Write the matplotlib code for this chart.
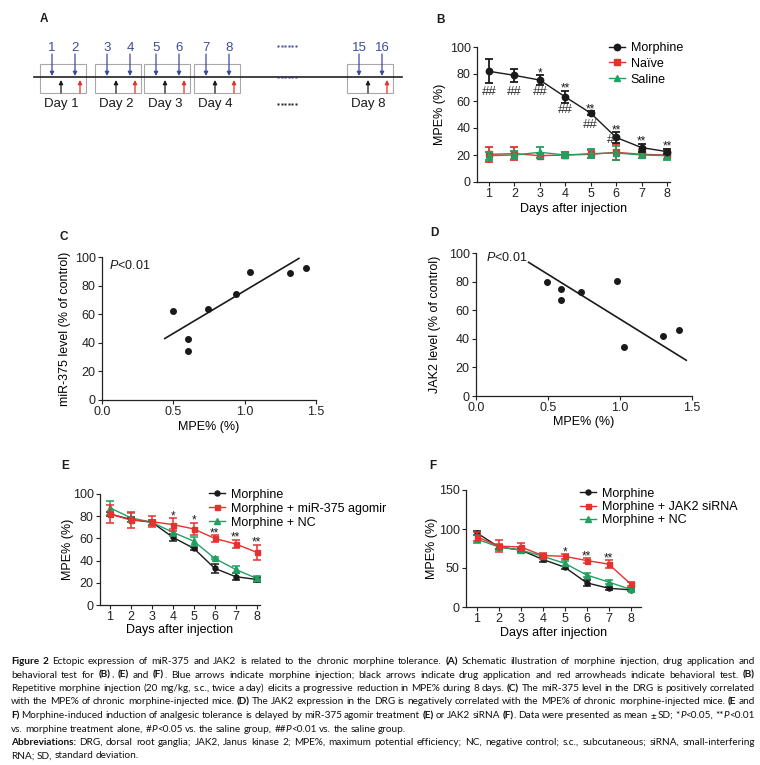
import numpy as np
import matplotlib
matplotlib.use('Agg')
import matplotlib.pyplot as plt
from matplotlib.font_manager import FontProperties
from matplotlib.patches import Rectangle

W, H = 760, 765
plt.rcParams['font.family'] = ['Liberation Sans', 'DejaVu Sans']
plt.rcParams['mathtext.fontset'] = 'custom'
plt.rcParams['mathtext.rm'] = 'Liberation Sans'
plt.rcParams['mathtext.it'] = 'Liberation Sans:italic'
plt.rcParams['mathtext.bf'] = 'Liberation Sans:bold'

# ---------------- data ----------------
a_injections = [1, 2, 3, 4, 5, 6, 7, 8, 15, 16]
a_day_labels = ['Day 1', 'Day 2', 'Day 3', 'Day 4', 'Day 8']

days = [1, 2, 3, 4, 5, 6, 7, 8]
b_morphine = [82, 79, 75.5, 63, 51, 33, 25.5, 22.5]
b_morphine_sd = [9, 5, 3.5, 4.5, 1.5, 4, 3, 2]
b_naive = [20.5, 21, 19.5, 20, 20.5, 22, 20.5, 20]
b_naive_sd = [5.5, 5, 2, 2.5, 3, 6, 3, 3]
b_saline = [19.5, 20, 22, 20, 21, 21.5, 20, 19.5]
b_saline_sd = [3, 3, 4, 1.5, 3.5, 5, 2, 3]
b_stars = ['', '', '*', '**', '**', '**', '**', '**']
b_hash = ['##', '##', '##', '##', '##', '#', '', '']
b_hash_x = [1, 2, 3, 4, 5, 5.78, 7, 8]
b_hash_y = [67, 67, 67, 53, 42, 31, 0, 0]

c_x = [0.50, 0.60, 0.60, 0.74, 0.94, 1.04, 1.32, 1.43]
c_y = [62.5, 43, 34.5, 63.5, 74, 89.5, 89, 92.5]
c_fit_x = [0.44, 1.38]
c_fit_y = [43, 99]

d_x = [0.49, 0.59, 0.59, 0.73, 0.98, 1.03, 1.30, 1.41]
d_y = [79.5, 74.5, 67, 72.5, 80.5, 34, 42, 46]
d_fit_x = [0.365, 1.46]
d_fit_y = [93.5, 25]

e_morphine = [82, 77, 74.5, 61, 51, 33, 25.5, 23]
e_morphine_sd = [2, 2, 2, 3, 1.5, 4, 3, 2]
e_agomir = [82, 76.5, 75, 72.5, 68.5, 60, 55, 47.5]
e_agomir_sd = [8, 7, 5, 5.5, 5.5, 3, 4, 7]
e_nc = [87.5, 78.5, 74.5, 65.5, 57.5, 42, 32, 24]
e_nc_sd = [6, 4, 2.5, 3, 4, 1, 3, 2]
e_stars = ['', '', '', '*', '*', '**', '**', '**']

f_morphine = [95, 77, 73, 61, 51, 31, 24, 22]
f_morphine_sd = [3, 3, 3, 3, 2, 4, 2, 2]
f_sirna = [90, 78, 77, 66, 65, 59.5, 55, 29.5]
f_sirna_sd = [6, 8, 5, 3, 3, 3, 5, 3]
f_nc = [87, 77, 73, 65, 56, 41, 32, 22.5]
f_nc_sd = [5, 4, 4, 3, 3, 2, 3, 2]
f_stars = ['', '', '', '', '*', '**', '**', '']

caption_lines = [
    ("«Figure 2» Ectopic expression of miR-375 and JAK2 is related to the chronic morphine tolerance. «(A)» Schematic illustration of morphine injection, drug application and", True),
    ("behavioral test for «(B)», «(E)» and «(F)». Blue arrows indicate morphine injection; black arrows indicate drug application and red arrowheads indicate behavioral test. «(B)»", True),
    ("Repetitive morphine injection (20 mg/kg, s.c., twice a day) elicits a progressive reduction in MPE% during 8 days. «(C)» The miR-375 level in the DRG is positively correlated", True),
    ("with the MPE% of chronic morphine-injected mice. «(D)» The JAK2 expression in the DRG is negatively correlated with the MPE% of chronic morphine-injected mice. «(E» and", True),
    ("«F)» Morphine-induced induction of analgesic tolerance is delayed by miR-375 agomir treatment «(E)» or JAK2 siRNA «(F)». Data were presented as mean ± SD; *‹P›<0.05, **‹P›<0.01", True),
    ("vs. morphine treatment alone, #‹P›<0.05 vs. the saline group, ##‹P›<0.01 vs. the saline group.", False),
    ("«Abbreviations:» DRG, dorsal root ganglia; JAK2, Janus kinase 2; MPE%, maximum potential efficiency; NC, negative control; s.c., subcutaneous; siRNA, small-interfering", True),
    ("RNA; SD, standard deviation.", False),
]

# ---------------- style ----------------
BLACK = '#1a1a1a'
RED = '#e8302c'
GREEN = '#22a062'
BLUE = '#3a4b9e'
FS = 9

fig = plt.figure(figsize=(W / 100, H / 100), dpi=100)
ax0 = fig.add_axes([0, 0, 1, 1])
ax0.set_xlim(0, W)
ax0.set_ylim(H, 0)
ax0.axis('off')


def add_ax(l, t, r, b):
    ax = fig.add_axes([l / W, 1 - b / H, (r - l) / W, (b - t) / H])
    for s in ('top', 'right'):
        ax.spines[s].set_visible(False)
    for s in ('left', 'bottom'):
        ax.spines[s].set_linewidth(0.9)
        ax.spines[s].set_color('#222222')
    ax.tick_params(direction='out', length=3, width=0.8, labelsize=FS,
                   pad=1.5, colors='#222222')
    ax._px = (l, t, r, b)
    return ax


def labels(ax, xl, yl, xlab_y, ylab_x):
    l, t, r, b = ax._px
    ax.set_xlabel(xl, fontsize=FS)
    ax.set_ylabel(yl, fontsize=FS)
    ax.xaxis.set_label_coords(0.5, -(xlab_y - b) / (b - t))
    ax.xaxis.label.set_va('center')
    ax.yaxis.set_label_coords((ylab_x - l) / (r - l), 0.5)
    ax.yaxis.label.set_va('center')


def series(ax, y, sd, color, marker, ms, z, elw=1.3, cap=3, lw=1.0):
    eb = ax.errorbar(days, y, yerr=sd, color=color, marker=marker, ms=ms,
                     lw=lw, elinewidth=elw, capsize=cap, capthick=elw,
                     zorder=z, clip_on=False)
    return eb[0]


def stars(ax, labs, y, sd, fs=8.5):
    for d, s, v, e in zip(days, labs, y, sd):
        if s:
            ax.annotate(s, (d, v + e), xytext=(0, 2), textcoords='offset pixels',
                        ha='center', va='center', fontsize=fs, color=BLACK)


def legend(ax, handles, labs, x, y, ls):
    ax.legend(handles, labs, loc='upper left', bbox_to_anchor=(x, y),
              bbox_transform=ax0.transData, frameon=False, fontsize=FS,
              borderpad=0, borderaxespad=0, handlelength=1.25,
              handletextpad=0.5, labelspacing=ls, numpoints=1)


# ---------------- panel letters ----------------
for letter, x, y in [('A', 40, 19), ('B', 436, 19.5), ('C', 59, 237),
                     ('D', 430, 233), ('E', 61.5, 465.5), ('F', 429, 465.5)]:
    ax0.text(x, y, letter, fontsize=8.5, fontweight='bold', ha='left',
             va='center', color=BLACK)

# ---------------- panel A ----------------
line_y = 77
ax0.plot([34, 402], [line_y, line_y], color='#222222', lw=1.2, zorder=2)
box_left = [40, 95, 144, 194, 347]
box_w = 46
for i, (bl, lab) in enumerate(zip(box_left, a_day_labels)):
    ax0.add_patch(Rectangle((bl, 64), box_w, 29, fill=False, ec='#a8a8a8', lw=0.8))
    for k, off in enumerate((12, 35)):
        x = bl + off
        ax0.annotate('', xy=(x, line_y - 1), xytext=(x, 54),
                     arrowprops=dict(arrowstyle='-|>', color=BLUE, lw=0.9,
                                     shrinkA=0, shrinkB=0, mutation_scale=6))
        ax0.text(x, 48, str(a_injections[2 * i + k]), color=BLUE, ha='center',
                 va='center', fontsize=9.5)
    for off, col in ((21, BLACK), (40, RED)):
        x = bl + off
        ax0.annotate('', xy=(x, 80), xytext=(x, 93),
                     arrowprops=dict(arrowstyle='-|>', color=col, lw=0.9,
                                     shrinkA=0, shrinkB=0, mutation_scale=6))
    ax0.text(bl + 21, 104, lab, ha='center', va='center', fontsize=9.5, color=BLACK)
for y, col in ((46, BLUE), (line_y, '#333366'), (104, '#222222')):
    ax0.plot(np.linspace(278, 296, 6), [y] * 6, ls='none', marker='s', ms=1.8,
             mec='none', color=col)

# ---------------- panel B ----------------
axB = add_ax(477, 47, 670, 182)
axB.set_xlim(0.528, 8.118)
axB.set_ylim(0, 100)
axB.set_xticks(days)
axB.set_yticks(range(0, 101, 20))
hn = series(axB, b_naive, b_naive_sd, RED, 's', 4.2, 3)
hs = series(axB, b_saline, b_saline_sd, GREEN, '^', 4.6, 4)
hm = series(axB, b_morphine, b_morphine_sd, BLACK, 'o', 4.6, 5)
stars(axB, b_stars, b_morphine, b_morphine_sd)
for s, x, y in zip(b_hash, b_hash_x, b_hash_y):
    if s:
        axB.text(x, y, s, ha='center', va='center', fontsize=9.5, color='#333333', zorder=6)
labels(axB, 'Days after injection', 'MPE% (%)', 209, 440)
legend(axB, [hm, hn, hs], ['Morphine', 'Naïve', 'Saline'], 609, 42, 0.3)

# ---------------- panel C ----------------
axC = add_ax(102, 257, 316, 400)
axC.set_xlim(0, 1.5)
axC.set_ylim(0, 100)
axC.set_xticks([0, 0.5, 1.0, 1.5])
axC.set_xticklabels(['0.0', '0.5', '1.0', '1.5'])
axC.set_yticks(range(0, 101, 20))
axC.scatter(c_x, c_y, s=16, color=BLACK, zorder=3, clip_on=False)
axC.plot(c_fit_x, c_fit_y, color=BLACK, lw=1.2)
axC.text(0.05, 94, '$P$<0.01', fontsize=FS, ha='left', va='center', color=BLACK)
labels(axC, 'MPE% (%)', 'miR-375 level (% of control)', 427, 65)

# ---------------- panel D ----------------
axD = add_ax(476, 253, 692, 396)
axD.set_xlim(0, 1.5)
axD.set_ylim(0, 100)
axD.set_xticks([0, 0.5, 1.0, 1.5])
axD.set_xticklabels(['0.0', '0.5', '1.0', '1.5'])
axD.set_yticks(range(0, 101, 20))
axD.scatter(d_x, d_y, s=16, color=BLACK, zorder=3, clip_on=False)
axD.plot(d_fit_x, d_fit_y, color=BLACK, lw=1.2)
axD.text(0.07, 97, '$P$<0.01', fontsize=FS, ha='left', va='center', color=BLACK)
labels(axD, 'MPE% (%)', 'JAK2 level (% of control)', 422, 435)

# ---------------- panel E ----------------
axE = add_ax(100, 494, 260, 605)
axE.set_xlim(0.523, 8.16)
axE.set_ylim(0, 100)
axE.set_xticks(days)
axE.set_yticks(range(0, 101, 20))
hem = series(axE, e_morphine, e_morphine_sd, BLACK, 'o', 3.6, 3, elw=1.1, cap=2.6)
hen = series(axE, e_nc, e_nc_sd, GREEN, '^', 3.8, 4, elw=1.1, cap=2.6)
hea = series(axE, e_agomir, e_agomir_sd, RED, 's', 3.6, 5, elw=1.1, cap=2.6)
stars(axE, e_stars, e_agomir, e_agomir_sd)
labels(axE, 'Days after injection', 'MPE% (%)', 630, 68)
legend(axE, [hem, hea, hen], ['Morphine', 'Morphine + miR-375 agomir', 'Morphine + NC'],
       209, 488.5, 0.17)

# ---------------- panel F ----------------
axF = add_ax(466, 490, 641, 607)
axF.set_xlim(0.511, 8.47)
axF.set_ylim(0, 150)
axF.set_xticks(days)
axF.set_yticks([0, 50, 100, 150])
hfm = series(axF, f_morphine, f_morphine_sd, BLACK, 'o', 3.6, 3, elw=1.1, cap=2.6)
hfn = series(axF, f_nc, f_nc_sd, GREEN, '^', 3.8, 4, elw=1.1, cap=2.6)
hfs = series(axF, f_sirna, f_sirna_sd, RED, 's', 3.6, 5, elw=1.1, cap=2.6)
stars(axF, f_stars, f_sirna, f_sirna_sd)
labels(axF, 'Days after injection', 'MPE% (%)', 633, 432)
legend(axF, [hfm, hfs, hfn], ['Morphine', 'Morphine + JAK2 siRNA', 'Morphine + NC'],
       580, 487.5, 0.12)

# ---------------- caption (justified) ----------------
renderer = fig.canvas.get_renderer()
CAP_FAMILY = ['Lato', 'DejaVu Sans']


def props(style, size):
    if style == 'b':
        return FontProperties(family=CAP_FAMILY, weight='bold', size=size)
    if style == 'i':
        return FontProperties(family=CAP_FAMILY, style='italic', size=size)
    return FontProperties(family=CAP_FAMILY, size=size)


def parse(line, state):
    words = []
    for w in line.split(' '):
        pieces, cur = [], ''
        for ch in w:
            if ch in '«»‹›':
                if cur:
                    pieces.append((cur, state))
                    cur = ''
                state = {'«': 'b', '»': 'n', '‹': 'i', '›': 'n'}[ch]
            else:
                cur += ch
        if cur:
            pieces.append((cur, state))
        words.append(pieces)
    return words, state


parsed = []
st = 'n'
for txt, just in caption_lines:
    wds, st = parse(txt, st)
    parsed.append((wds, just))


def width(s, style, size):
    return renderer.get_text_width_height_descent(s, props(style, size), ismath=False)[0]


def space_w(size):
    p = props('n', size)
    a = renderer.get_text_width_height_descent('a a', p, ismath=False)[0]
    b = renderer.get_text_width_height_descent('aa', p, ismath=False)[0]
    return a - b


X0, X1 = 11, 755
base = 7.0
sc = 10.0
for wds, just in parsed:
    if just:
        nat = sum(width(t, s, base) for w in wds for t, s in w) + (len(wds) - 1) * space_w(base) * 0.8
        sc = min(sc, (X1 - X0) / nat)
cap_size = base * sc

line_base_y = [664, 677.5, 691, 704.5, 718, 731.5, 745, 758.5]
sp = space_w(cap_size)
for (wds, just), yb in zip(parsed, line_base_y):
    ww = [sum(width(t, s, cap_size) for t, s in w) for w in wds]
    gap = (X1 - X0 - sum(ww)) / (len(wds) - 1) if just else sp
    x = X0
    for w, wwid in zip(wds, ww):
        xx = x
        for t, s in w:
            ax0.text(xx, yb, t, fontproperties=props(s, cap_size), ha='left',
                     va='baseline', color='#111111')
            xx += width(t, s, cap_size)
        x += wwid + gap

fig.savefig('out.png', dpi=100)
